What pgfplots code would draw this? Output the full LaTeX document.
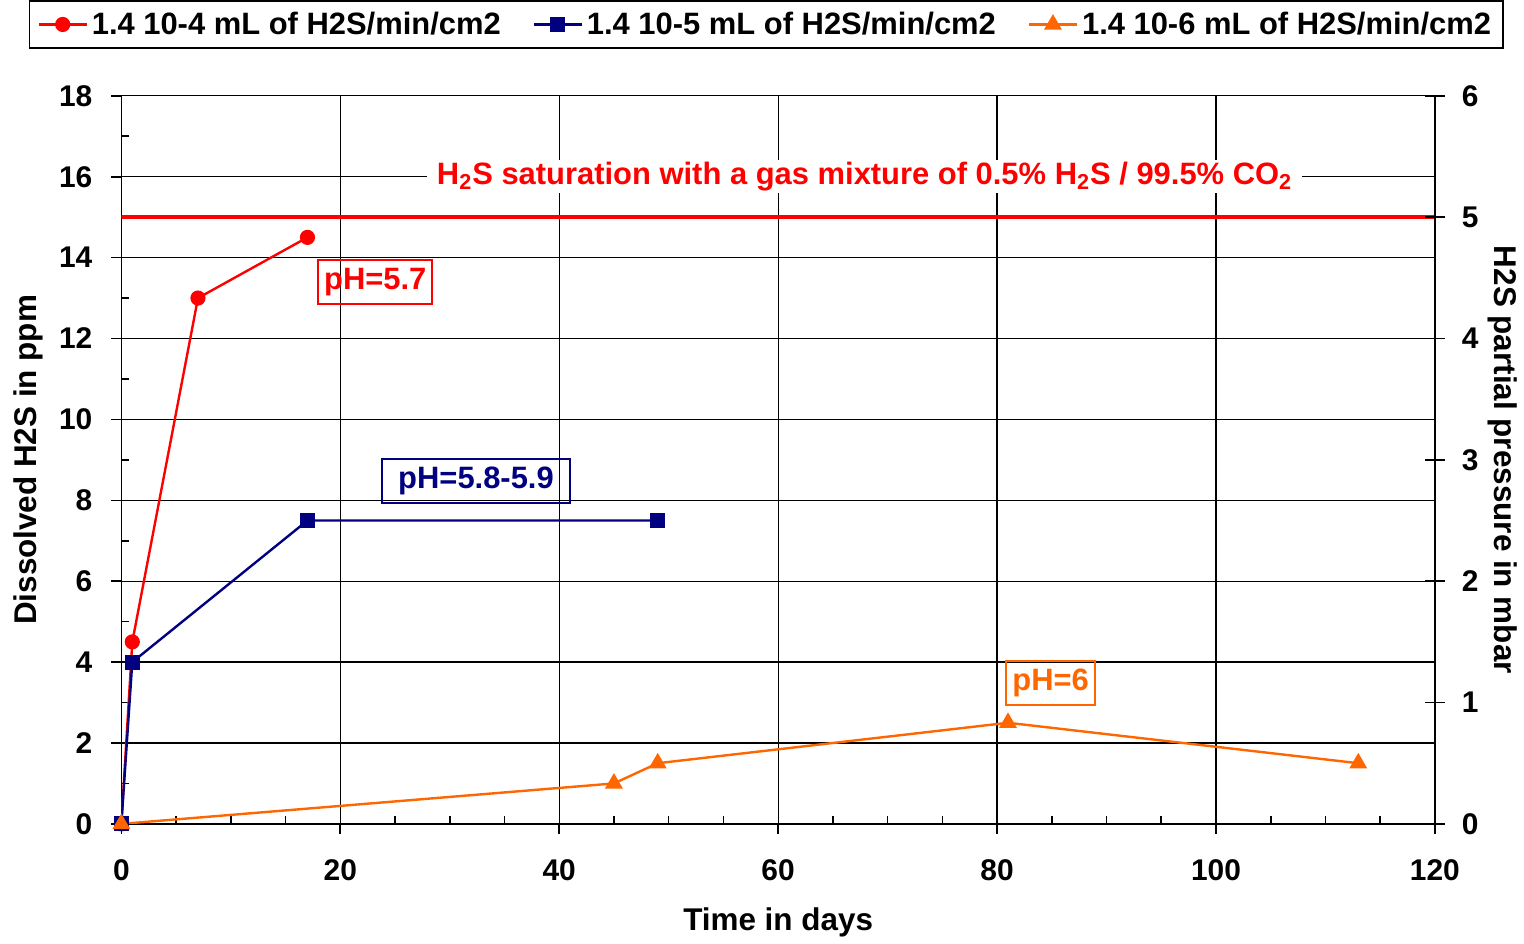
\documentclass[border=0pt]{standalone}
\usepackage{fontspec}
\setmainfont{Liberation Sans}
\usepackage{pgfplots}
\pgfplotsset{compat=1.18}
\definecolor{cred}{RGB}{255,0,0}
\definecolor{cnavy}{RGB}{0,0,128}
\definecolor{corange}{RGB}{255,102,0}
\newcommand{\tf}{\fontsize{15}{17}\selectfont\bfseries}
\newcommand{\gf}{\fontsize{15.5}{18}\selectfont\bfseries}
\newcommand{\lf}{\fontsize{15.75}{18}\selectfont\bfseries}
\begin{document}
\begin{tikzpicture}
\begin{axis}[
  scale only axis, width=658.5pt, height=365pt,
  xmin=0, xmax=120, ymin=0, ymax=18,
  xtick={0,20,...,120}, ytick={0,2,...,18},
  minor x tick num=3, minor y tick num=1,
  axis x line*=bottom, axis y line*=left,
  axis line style={-, black, line width=0.8pt},
  grid=major, major grid style={black, line width=0.6pt},
  tick align=outside, major tick length=5pt, minor tick length=-4pt,
  tick style={black, line width=0.8pt},
  /pgf/number format/assume math mode=true,
  ticklabel style={font=\tf},
  xticklabel style={yshift=-9.5pt},
  yticklabel style={xshift=-6pt},
  xlabel={Time in days}, ylabel={Dissolved H2S in ppm},
  label style={font=\lf},
  xlabel style={at={(rel axis cs:0.5,0)}, anchor=center, yshift=-49.5pt},
  ylabel style={at={(rel axis cs:0,0.5)}, anchor=center, yshift=46.5pt, inner xsep=1pt, inner ysep=7pt},
  legend image code/.code={
    \draw[mark repeat=2,mark phase=2] plot coordinates {(0pt,0pt) (12pt,0pt) (24pt,0pt)};},
  legend style={at={(rel axis cs:0.491,1)}, anchor=south, yshift=23.5pt,
    legend columns=-1, draw=black, line width=0.8pt, font=\gf,
    inner ysep=3.5pt, inner xsep=4pt,
    /tikz/every even column/.append style={column sep=14pt}},
]
\addplot[cred, line width=1.2pt, mark=*, mark size=3.2pt, mark options={solid, fill=cred}]
  coordinates {(0,0) (1,4.5) (7,13) (17,14.5)};
\addlegendentry{1.4 10-4 mL of H2S/min/cm2}
\addplot[cnavy, line width=1.2pt, mark=square*, mark size=3.2pt, mark options={solid, fill=cnavy}]
  coordinates {(0,0) (1,4) (17,7.5) (49,7.5)};
\addlegendentry{1.4 10-5 mL of H2S/min/cm2}
\addplot[corange, line width=1.2pt, mark=triangle*, mark size=4pt, mark options={solid, fill=corange}]
  coordinates {(0,0) (45,1) (49,1.5) (81,2.5) (113,1.5)};
\addlegendentry{1.4 10-6 mL of H2S/min/cm2}
\addplot[cred, line width=2.2pt, forget plot] coordinates {(0,15) (120,15)};
\node[fill=white, text=cred, font=\gf, inner xsep=5pt, inner ysep=1pt] at (axis cs:67.9,16)
  {H\textsubscript{2}S saturation with a gas mixture of 0.5\% H\textsubscript{2}S / 99.5\% CO\textsubscript{2}};
\node[draw=cred, line width=1pt, text=cred, font=\gf, inner xsep=3pt, inner ysep=4pt] at (axis cs:23.2,13.4) {pH=5.7};
\node[draw=cnavy, line width=1pt, text=cnavy, font=\gf, inner xsep=8pt, inner ysep=4pt] at (axis cs:32.4,8.48) {pH=5.8-5.9};
\node[draw=corange, line width=1pt, text=corange, font=\gf, inner xsep=3pt, inner ysep=4pt] at (axis cs:84.9,3.48) {pH=6};
\end{axis}
\begin{axis}[
  scale only axis, width=658.5pt, height=365pt,
  xmin=0, xmax=120, ymin=0, ymax=6,
  axis x line=none, axis y line*=right,
  axis line style={-, black, line width=0.8pt},
  ytick={0,1,...,6},
  tick align=center, major tick length=10pt,
  tick style={black, line width=0.8pt},
  /pgf/number format/assume math mode=true,
  ticklabel style={font=\tf},
  yticklabel style={xshift=5pt},
  ylabel={H2S partial pressure in mbar},
  label style={font=\lf},
  ylabel style={at={(rel axis cs:1,0.5)}, anchor=center, rotate=180, yshift=34pt},
]
\end{axis}
\end{tikzpicture}
\end{document}
